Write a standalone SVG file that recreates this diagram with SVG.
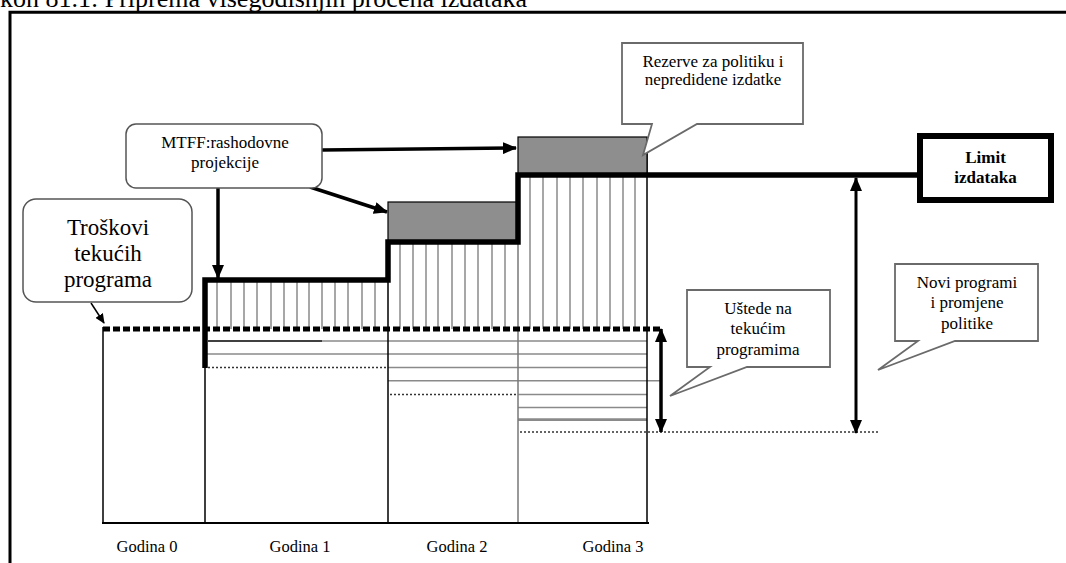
<svg xmlns="http://www.w3.org/2000/svg" width="1066" height="563" viewBox="0 0 1066 563">
<defs>
<marker id="ah" markerUnits="userSpaceOnUse" markerWidth="14" markerHeight="12" refX="13" refY="6" orient="auto-start-reverse">
<path d="M0,0 L14,6 L0,12 Z" fill="#000"/>
</marker>
<marker id="ahs" markerUnits="userSpaceOnUse" markerWidth="10" markerHeight="9" refX="9" refY="4.5" orient="auto">
<path d="M0,0 L10,4.5 L0,9 Z" fill="#000"/>
</marker>
</defs>
<style>
text{font-family:"Liberation Serif","Times New Roman",serif;fill:#000}
.t17{font-size:17px;text-anchor:middle}
.big{font-size:23px;text-anchor:middle}
.lbl{font-size:16.5px;text-anchor:middle}
.callout{fill:#fff;stroke:#6a6a6a;stroke-width:1.8}
.rbox{fill:#fff;stroke:#555;stroke-width:1.5}
.hatch{stroke:#8a8a8a;stroke-width:1.5}
.hl{stroke:#8a8a8a;stroke-width:1.5}
.dot{stroke:#333;stroke-width:1.5;stroke-dasharray:2 2}
.vb{stroke:#000;stroke-width:1.5}
.gbox{fill:#8e8e8e;stroke:#000;stroke-width:1.2}
.arr{stroke:#000;stroke-width:3.5;fill:none}
</style>
<rect width="1066" height="563" fill="#fff"/>
<g id="title">
<text x="0" y="7" style="font-size:26px">kon 81.1: Priprema višegodišnjih procena izdataka</text>
</g>
<g id="frame" fill="none" stroke="#000" stroke-width="3">
<path d="M10,563 V12.3 H1066"/>
</g>
<g id="chart">
<!-- hatch lines year 1 -->
<g class="hatch">
<path d="M217,282V329M231,282V329M244,282V329M257,282V329M271,282V329M284,282V329M297,282V329M309,282V329M322,282V329M335,282V329M348,282V329M362,282V329M375,282V329"/>
<path d="M400,244V329M413,244V329M426,244V329M438,244V329M452,244V329M465,244V329M478,244V329M492,244V329M505,244V329"/>
<path d="M530,177V329M543,177V329M557,177V329M570,177V329M583,177V329M597,177V329M610,177V329M623,177V329M635,177V329"/>
</g>
<!-- horizontal savings lines -->
<path d="M208,341H322" stroke="#000" stroke-width="1.5"/>
<path class="hl" d="M322,341H647M205,354H647M388,367.6H647M388,380.7H660M518,394.4H647M518,407.5H647"/>
<path d="M518,419.6H647" stroke="#8a8a8a" stroke-width="2.6"/>
<path class="dot" d="M208,367.6H386M390,394.4H516M520,432H878"/>
<!-- year boundaries -->
<path class="vb" d="M103,327V523M205,368V523M388,244V523M647,137V523"/>
<path d="M518,177V523" stroke="#777" stroke-width="1.5"/>
<path d="M102,523H649" stroke="#000" stroke-width="2"/>
<!-- gray reserve boxes -->
<rect id="reserve2" class="gbox" x="388" y="202" width="130" height="39"/>
<rect id="reserve3" class="gbox" x="518" y="137" width="129" height="37"/>
<!-- current programs dashed level -->
<path d="M103,329H662" stroke="#000" stroke-width="5" stroke-dasharray="7 3"/>
<!-- expenditure limit step line -->
<path d="M205,368V280H388V242H518V175H917" stroke="#000" stroke-width="5.5" fill="none" stroke-linejoin="miter"/>
</g>
<g id="connectors">
<path class="arr" d="M322,150L516,148" marker-end="url(#ah)"/>
<path class="arr" d="M310,187L387,212" marker-end="url(#ah)"/>
<path class="arr" d="M218,188V278" marker-end="url(#ah)"/>
<path d="M661,329V432" stroke="#000" stroke-width="3.5" marker-start="url(#ah)" marker-end="url(#ah)"/>
<path d="M856,178V433" stroke="#000" stroke-width="3" marker-start="url(#ah)" marker-end="url(#ah)"/>
<path d="M91,303L104,323" stroke="#000" stroke-width="1.5" marker-end="url(#ahs)"/>
</g>
<g id="node-troskovi">
<rect class="rbox" x="23" y="199" width="169" height="103" rx="13"/>
<text class="big" x="108" y="235">Troškovi</text>
<text class="big" x="108" y="261">tekućih</text>
<text class="big" x="108" y="287">programa</text>
</g>
<g id="node-mtff">
<rect class="rbox" x="126" y="124" width="196" height="64" rx="10"/>
<text class="t17" x="225" y="148">MTFF:rashodovne</text>
<text class="t17" x="225" y="168">projekcije</text>
</g>
<g id="node-rezerve">
<path class="callout" d="M622,43H803V124H697L643,155L652,124H622Z"/>
<text class="t17" x="713" y="67">Rezerve za politiku i</text>
<text class="t17" x="713" y="85">nepredidene izdatke</text>
</g>
<g id="node-limit">
<rect x="920" y="136" width="131" height="64" fill="#fff" stroke="#000" stroke-width="6"/>
<text x="985.5" y="163" style="font-size:17px;font-weight:bold;text-anchor:middle">Limit</text>
<text x="985.5" y="183" style="font-size:17px;font-weight:bold;text-anchor:middle">izdataka</text>
</g>
<g id="node-ustede">
<path class="callout" d="M687,290H830V367H747L670,396L710,367H687Z"/>
<text class="t17" x="758" y="314">Uštede na</text>
<text class="t17" x="758" y="334">tekućim</text>
<text class="t17" x="758" y="355">programima</text>
</g>
<g id="node-novi">
<path class="callout" d="M895,264H1038V341H955L878,370L918,341H895Z"/>
<text class="t17" x="967" y="288">Novi programi</text>
<text class="t17" x="967" y="308">i promjene</text>
<text class="t17" x="967" y="329">politike</text>
</g>
<g id="axis-labels">
<text class="lbl" x="147" y="552">Godina 0</text>
<text class="lbl" x="300" y="552">Godina 1</text>
<text class="lbl" x="457" y="552">Godina 2</text>
<text class="lbl" x="613" y="552">Godina 3</text>
</g>
</svg>
